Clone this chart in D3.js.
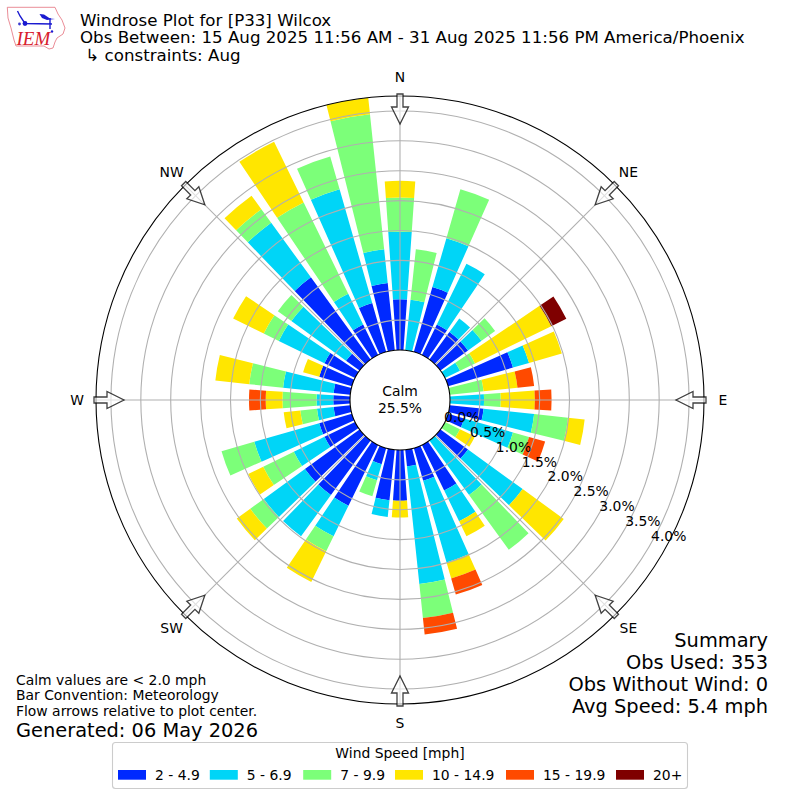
<!DOCTYPE html>
<html>
<head>
<meta charset="utf-8">
<script src="https://cdn.jsdelivr.net/npm/d3@7"></script>
<style>
body { margin: 0; background: #fff; }
text { font-family: "DejaVu Sans", sans-serif; fill: #000; }
</style>
</head>
<body>
<svg id="rose" width="800" height="800"></svg>
<script>
// wind direction of each bar, degrees
var directions = [0, 10, 20, 30, 40, 50, 60, 70, 80, 90, 100, 110, 120, 130, 140, 150, 160, 170,
  180, 190, 200, 210, 220, 230, 240, 250, 260, 270, 280, 290, 300, 310, 320, 330, 340, 350];

// percent of obs, one list per speed bin, same order as directions
var speed2to5 = [0.85, 0, 1.13, 0.57, 0.57, 0.57, 0, 1.13, 0, 0, 0.57, 0.28, 0, 0.57, 0, 0.85, 0.57, 0.28,
  0.85, 0.85, 0.28, 1.13, 1.13, 1.13, 0.57, 0.57, 0.28, 0.28, 0.28, 0.57, 0.57, 0.28, 1.70, 0.57, 0.85, 1.13];
var speed5to7 = [1.13, 0.85, 0.85, 1.13, 0.28, 0.28, 0.28, 0.28, 0, 0.57, 0.85, 0.85, 0, 1.13, 1.13, 0.57, 1.42, 1.98,
  0, 0.28, 0.28, 0.57, 0.85, 0.85, 0.57, 1.13, 0.28, 0.28, 0.85, 0, 0.85, 1.13, 1.13, 0.57, 1.98, 0.57];
var speed7to10 = [0.57, 0.85, 0.85, 0, 0, 0.28, 0.28, 0, 0.57, 0.28, 0.57, 0.28, 0.28, 0, 1.13, 0, 0, 0.57,
  0, 0, 0.28, 0.28, 0, 0.28, 0.57, 0.57, 0.28, 0.57, 0.57, 0, 0.28, 0.28, 0.28, 1.70, 0.57, 2.27];
var speed10to15 = [0.28, 0, 0, 0, 0, 0, 1.42, 0.57, 0.57, 0.57, 0.28, 0, 0.28, 0.85, 0, 0.28, 0.28, 0,
  0.28, 0, 0, 0.57, 0, 0.28, 0.28, 0, 0.28, 0.28, 0.57, 0.28, 0.57, 0, 0.28, 1.13, 0, 0.28];
var speed15to20 = [0, 0, 0, 0, 0, 0, 0, 0, 0.28, 0.28, 0, 0.28, 0, 0, 0, 0, 0.28, 0.28,
  0, 0, 0, 0, 0, 0, 0, 0, 0, 0.28, 0, 0, 0, 0, 0, 0, 0, 0];
var speed20up = [0, 0, 0, 0, 0, 0, 0.28, 0, 0, 0, 0, 0, 0, 0, 0, 0, 0, 0,
  0, 0, 0, 0, 0, 0, 0, 0, 0, 0, 0, 0, 0, 0, 0, 0, 0, 0];

var speedBins = ['2 - 4.9', '5 - 6.9', '7 - 9.9', '10 - 14.9', '15 - 19.9', '20+'];
var binColors = ['#0029ff', '#00d5f7', '#7cff79', '#ffe600', '#ff4a00', '#7f0000'];
var binValues = [speed2to5, speed5to7, speed7to10, speed10to15, speed15to20, speed20up];

var radialTicks = [0, 0.5, 1, 1.5, 2, 2.5, 3, 3.5, 4];
var compass = ['N', 'NE', 'E', 'SE', 'S', 'SW', 'W', 'NW'];

var titleLines = ['Windrose Plot for [P33] Wilcox',
  'Obs Between: 15 Aug 2025 11:56 AM - 31 Aug 2025 11:56 PM America/Phoenix',
  ' \u21b3 constraints: Aug'];
var summaryLines = ['Summary', 'Obs Used: 353', 'Obs Without Wind: 0', 'Avg Speed: 5.4 mph'];
var noteLines = ['Calm values are < 2.0 mph', 'Bar Convention: Meteorology', 'Flow arrows relative to plot center.'];

var svg = d3.select('#rose');
var cx = 400, cy = 400;
var outerR = 304, innerR = 50;
var barWidth = 8 * Math.PI / 180;

var r = d3.scaleLinear().domain([0, 4.25]).range([innerR, outerR]);

var rows = directions.map(function(d, i) {
  var row = { dir: d };
  speedBins.forEach(function(b, j) { row[b] = binValues[j][i]; });
  return row;
});
var series = d3.stack().keys(speedBins)(rows);

var plot = svg.append('g').attr('transform', 'translate(' + cx + ',' + cy + ')');

// bars
var arc = d3.arc();
series.forEach(function(s, j) {
  plot.append('g').selectAll('path')
    .data(s.filter(function(d) { return d[1] > d[0]; }))
    .enter().append('path')
    .attr('fill', binColors[j])
    .attr('d', function(d) {
      var a = d.data.dir * Math.PI / 180;
      return arc({
        innerRadius: r(d[0]),
        outerRadius: r(d[1]),
        startAngle: a - barWidth / 2,
        endAngle: a + barWidth / 2
      });
    });
});

// grid goes over the bars
plot.append('g').selectAll('circle')
  .data(radialTicks.slice(1))
  .enter().append('circle')
  .attr('r', function(d) { return r(d); })
  .attr('fill', 'none')
  .attr('stroke', '#b0b0b0')
  .attr('stroke-width', 1.1);

plot.append('g').selectAll('line')
  .data(compass)
  .enter().append('line')
  .attr('x1', function(d, i) { return innerR * Math.sin(i * Math.PI / 4); })
  .attr('y1', function(d, i) { return -innerR * Math.cos(i * Math.PI / 4); })
  .attr('x2', function(d, i) { return outerR * Math.sin(i * Math.PI / 4); })
  .attr('y2', function(d, i) { return -outerR * Math.cos(i * Math.PI / 4); })
  .attr('stroke', '#b0b0b0')
  .attr('stroke-width', 1.1);

// axes edges
plot.append('circle').attr('r', outerR).attr('fill', 'none').attr('stroke', '#000').attr('stroke-width', 1.1);
plot.append('circle').attr('r', innerR).attr('fill', '#fff').attr('stroke', '#000').attr('stroke-width', 1.1);

// flow arrows, drawn pointing at the center from the N position then rotated
var arrowPath = d3.path();
arrowPath.moveTo(-3, -306);
arrowPath.lineTo(3, -306);
arrowPath.lineTo(3, -293);
arrowPath.lineTo(8.5, -293);
arrowPath.lineTo(0, -276);
arrowPath.lineTo(-8.5, -293);
arrowPath.lineTo(-3, -293);
arrowPath.closePath();

plot.append('g').selectAll('path')
  .data(compass)
  .enter().append('path')
  .attr('d', arrowPath.toString())
  .attr('transform', function(d, i) { return 'rotate(' + (i * 45) + ')'; })
  .attr('fill', '#fff')
  .attr('fill-opacity', 0.6)
  .attr('stroke', '#000')
  .attr('stroke-opacity', 0.75)
  .attr('stroke-width', 1.3);

// compass labels
plot.append('g').selectAll('text')
  .data(compass)
  .enter().append('text')
  .attr('x', function(d, i) { return 323 * Math.sin(i * Math.PI / 4); })
  .attr('y', function(d, i) { return -323 * Math.cos(i * Math.PI / 4); })
  .attr('dy', '0.36em')
  .attr('text-anchor', 'middle')
  .style('font-size', '13.9px')
  .text(function(d) { return d; });

// percent labels
plot.append('g').selectAll('text')
  .data(radialTicks)
  .enter().append('text')
  .attr('x', function(d) { return r(d) * Math.cos(Math.PI / 6) + 18.4; })
  .attr('y', function(d) { return r(d) * Math.sin(Math.PI / 6) - 8.3; })
  .attr('dy', '0.36em')
  .attr('text-anchor', 'middle')
  .style('font-size', '13.9px')
  .text(function(d) { return d.toFixed(1) + '%'; });

// calm
plot.append('text').attr('y', -9).attr('dy', '0.36em').attr('text-anchor', 'middle')
  .style('font-size', '13.9px').text('Calm');
plot.append('text').attr('y', 8).attr('dy', '0.36em').attr('text-anchor', 'middle')
  .style('font-size', '13.9px').text('25.5%');

// title
svg.append('g').selectAll('text')
  .data(titleLines)
  .enter().append('text')
  .attr('x', 80)
  .attr('y', function(d, i) { return 25.5 + i * 17.7; })
  .attr('xml:space', 'preserve')
  .style('white-space', 'pre')
  .style('font-size', '16.67px')
  .text(function(d) { return d; });

// summary, right aligned
svg.append('g').selectAll('text')
  .data(summaryLines)
  .enter().append('text')
  .attr('x', 768)
  .attr('y', function(d, i) { return 647 + i * 21.9; })
  .attr('text-anchor', 'end')
  .style('font-size', '19.4px')
  .text(function(d) { return d; });

// notes
svg.append('g').selectAll('text')
  .data(noteLines)
  .enter().append('text')
  .attr('x', 16)
  .attr('y', function(d, i) { return 684.5 + i * 15.9; })
  .style('font-size', '13.9px')
  .text(function(d) { return d; });

svg.append('text').attr('x', 16).attr('y', 737).style('font-size', '19.4px').text('Generated: 06 May 2026');

// legend
var legend = svg.append('g');
legend.append('rect')
  .attr('x', 112.5).attr('y', 742.5).attr('width', 575).attr('height', 46).attr('rx', 3)
  .attr('fill', '#fff').attr('stroke', '#ccc').attr('stroke-width', 1.1);
legend.append('text').attr('x', 400).attr('y', 758).attr('text-anchor', 'middle')
  .style('font-size', '13.9px').text('Wind Speed [mph]');
var legendX = [118, 209.8, 303.2, 395, 506, 616];
var items = legend.selectAll('g').data(speedBins).enter().append('g')
  .attr('transform', function(d, i) { return 'translate(' + legendX[i] + ',770)'; });
items.append('rect').attr('width', 28).attr('height', 9.7)
  .attr('fill', function(d, i) { return binColors[i]; });
items.append('text').attr('x', 37).attr('y', 9.5).style('font-size', '13.9px').text(function(d) { return d; });

// logo
var logo = svg.append('g');
logo.append('path')
  .attr('d', 'M7.3,7.3 L55,7.3 L58,14 L62,20 L65,28 L63,34 L57,38 L55,42 L53,48 L49,49 L44,46 L16,46 L14,40 L11,28 L8,18 Z')
  .attr('fill', 'none').attr('stroke', '#e4707c').attr('stroke-width', 0.8);
logo.append('path')
  .attr('d', 'M17.5,11 L20,16 L25,23.5 L52,24 M50,18 L50,29')
  .attr('fill', 'none').attr('stroke', '#1a1ad0').attr('stroke-width', 1.4);
logo.append('path')
  .attr('d', 'M39.5,14 L44,14.5 L50,18.5 L55,19 L47,20 L42,18 Z')
  .attr('fill', '#1a1ad0');
logo.append('circle').attr('cx', 25).attr('cy', 23.5).attr('r', 2.4).attr('fill', '#1a1ad0');
logo.append('circle').attr('cx', 19.5).attr('cy', 24).attr('r', 1.4).attr('fill', '#3a3ad0');
logo.append('circle').attr('cx', 52).attr('cy', 31.5).attr('r', 1.2).attr('fill', '#1a1ad0');
logo.append('text').attr('x', 16.5).attr('y', 45)
  .style('font-family', '"Liberation Serif", serif').style('font-style', 'italic')
  .style('font-size', '19px').style('fill', '#d8202c').text('IEM');
</script>
</body>
</html>
